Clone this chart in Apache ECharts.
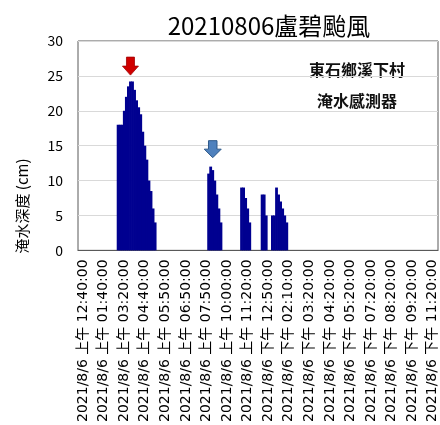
<!DOCTYPE html>
<html>
<head>
<meta charset="utf-8">
<script src="https://cdn.jsdelivr.net/npm/echarts@6/dist/echarts.min.js"></script>
<style>
html,body{margin:0;padding:0;background:#fff;}
#c{width:440px;height:425px;}
</style>
</head>
<body>
<div id="c"></div>
<script>
// Title and annotation texts
const chartTitle = '20210806盧碧颱風';
const stationLine1 = '東石鄉溪下村';
const stationLine2 = '淹水感測器';
const yAxisName = '淹水深度 (cm)';

// Tick labels shown on the x axis (every 10th reading)
const tickLabels = [
  '2021/8/6 上午 12:40:00', '2021/8/6 上午 01:40:00', '2021/8/6 上午 03:20:00',
  '2021/8/6 上午 04:40:00', '2021/8/6 上午 05:50:00', '2021/8/6 上午 06:50:00',
  '2021/8/6 上午 07:50:00', '2021/8/6 上午 10:00:00', '2021/8/6 上午 11:20:00',
  '2021/8/6 下午 12:50:00', '2021/8/6 下午 02:10:00', '2021/8/6 下午 03:20:00',
  '2021/8/6 下午 04:20:00', '2021/8/6 下午 05:20:00', '2021/8/6 下午 07:20:00',
  '2021/8/6 下午 08:20:00', '2021/8/6 下午 09:20:00', '2021/8/6 下午 11:20:00'
];
const firstLabelIndex = 2;
const labelEvery = 10;

// Flood depth (cm) per reading
const depth = [
  0,0,0,0,0,0,0,0,0,0, 0,0,0,0,0,0,0,0,0,
  18,18,18,20,22,23.5,24.2,24.2,23,21.5,20.5,19.5,17,15,13,10,8.5,6,4,
  0,0,0,0,0,0,0,0,0,0, 0,0,0,0,0,0,0,0,0,0, 0,0,0,0,0,
  11,12,11.5,10,8,6,4,
  0,0,0,0,0,0,0,0,0,
  9,9,7.5,6,4,
  0,0,0,0,0,
  8,8,5,
  0,0,
  5,5,9,8,7,6,5,4,
  0,0,0,0,0,0,0,0,0,0, 0,0,0,0,0,0,0,0,0,0, 0,0,0,0,0,0,0,0,0,0,
  0,0,0,0,0,0,0,0,0,0, 0,0,0,0,0,0,0,0,0,0, 0,0,0,0,0,0,0,0,0,0,
  0,0,0,0,0,0,0,0,0,0, 0,0,0
];

// Arrow annotations: [reading index, depth]
const redArrowAt = [25, 26.4];
const blueArrowAt = [65, 14.5];

const categories = depth.map((_, i) => {
  const k = (i - firstLabelIndex) / labelEvery;
  return (Number.isInteger(k) && k >= 0 && k < tickLabels.length) ? tickLabels[k] : ('r' + i);
});

const FONT = '"Noto Sans CJK TC", "Noto Sans", sans-serif';
const LABEL_FONT = '"DejaVu Sans", "Noto Sans CJK TC", sans-serif';
const arrowPath = 'path://M4,0 L12,0 L12,9 L16,9 L8,18 L0,9 L4,9 Z';
const BAR = '#000090';

const chart = echarts.init(document.getElementById('c'), null, {renderer: 'canvas'});
chart.setOption({
  animation: false,
  backgroundColor: '#fff',
  textStyle: {fontFamily: FONT},
  title: {
    text: chartTitle,
    left: 264, top: 9, textAlign: 'center',
    textStyle: {fontSize: 24, fontWeight: 'normal', color: '#000', fontFamily: FONT}
  },
  grid: {
    left: 78, right: 2, top: 41, bottom: 173,
    show: true, borderColor: '#595959', borderWidth: 1, backgroundColor: 'transparent'
  },
  xAxis: {
    type: 'category',
    data: categories,
    boundaryGap: true,
    axisLine: {lineStyle: {color: '#595959', width: 1}},
    axisTick: {show: false},
    axisLabel: {
      rotate: 90,
      interval: (idx) => (idx - firstLabelIndex) % labelEvery === 0 && idx >= firstLabelIndex,
      fontSize: 14, color: '#000', margin: 9, fontFamily: LABEL_FONT
    }
  },
  yAxis: {
    type: 'value', min: 0, max: 30, interval: 5,
    axisLine: {show: false},
    axisTick: {show: false},
    axisLabel: {fontSize: 14, color: '#000', margin: 15, fontFamily: FONT},
    splitLine: {lineStyle: {color: '#d9d9d9', width: 1}}
  },
  series: [{
    type: 'bar',
    data: depth,
    barWidth: 2.8,
    itemStyle: {color: BAR},
    markPoint: {
      silent: true,
      label: {show: false},
      data: [
        {coord: redArrowAt, symbol: arrowPath, symbolSize: [16, 18],
         itemStyle: {color: '#d00000', borderColor: '#a00000', borderWidth: 0.8}},
        {coord: blueArrowAt, symbol: arrowPath, symbolSize: [17, 17],
         itemStyle: {color: '#4f81bd', borderColor: '#2f5a8a', borderWidth: 1}}
      ]
    }
  }],
  graphic: [
    {type: 'text', x: 357, y: 70,
     style: {text: stationLine1, font: 'bold 16px ' + FONT, fill: '#111', align: 'center', verticalAlign: 'middle'}},
    {type: 'text', x: 357, y: 101,
     style: {text: stationLine2, font: 'bold 16px ' + FONT, fill: '#111', align: 'center', verticalAlign: 'middle'}},
    {type: 'text', x: 22, y: 206, rotation: Math.PI / 2,
     style: {text: yAxisName, font: '15px ' + FONT, fill: '#000', align: 'center', verticalAlign: 'middle'}}
  ]
});
</script>
</body>
</html>
